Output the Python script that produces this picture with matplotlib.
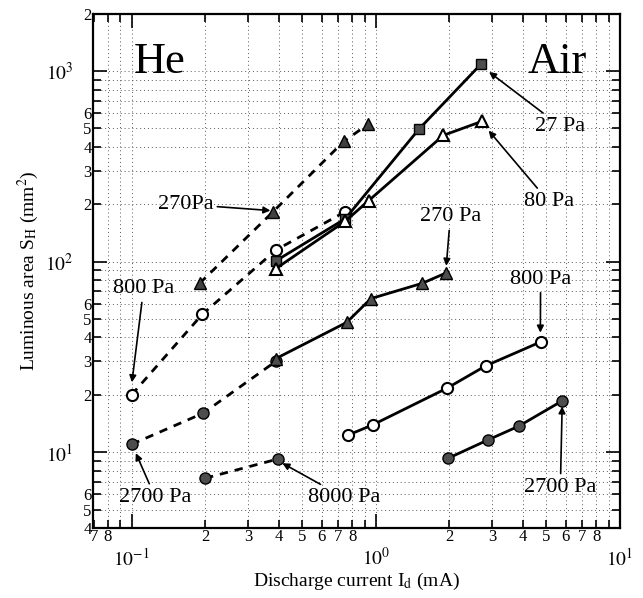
import matplotlib
matplotlib.use("Agg")
from matplotlib import pyplot as plt
from matplotlib.ticker import FixedLocator, FixedFormatter

plt.rcParams['font.family'] = ['Liberation Serif', 'DejaVu Serif']
plt.rcParams['mathtext.fontset'] = 'stix'

# --- data (current in mA, area in mm^2) ---
he_270_x = [0.19, 0.38, 0.74, 0.93]
he_270_y = [77, 183, 428, 526]
he_800_x = [0.1, 0.195, 0.39, 0.75]
he_800_y = [20, 53, 115, 183]
he_2700_x = [0.1, 0.196, 0.39]
he_2700_y = [11.0, 16.0, 30.0]
he_8000_x = [0.2, 0.396]
he_8000_y = [7.3, 9.2]

air_27_x = [0.39, 0.75, 1.5, 2.7]
air_27_y = [101, 168, 495, 1090]
air_80_x = [0.39, 0.75, 0.935, 1.89, 2.72]
air_80_y = [92, 163, 209, 460, 545]
air_270_x = [0.39, 0.76, 0.955, 1.55, 1.93]
air_270_y = [31, 48, 64, 77, 87]
air_800_x = [0.77, 0.97, 1.96, 2.82, 4.73]
air_800_y = [12.3, 13.9, 21.7, 28.4, 37.9]
air_2700_x = [1.98, 2.88, 3.85, 5.8]
air_2700_y = [9.3, 11.6, 13.7, 18.6]

fig = plt.figure(figsize=(6.43, 5.98), dpi=100)
ax = fig.add_axes([0.1446, 0.117, 0.8196, 0.860])
ax.set_xscale('log')
ax.set_yscale('log')
ax.set_xlim(0.0695, 10)
ax.set_ylim(4, 2000)

# grid (dotted, like the scanned paper)
xgrid = [0.08, 0.09, 0.1, 0.2, 0.3, 0.4, 0.5, 0.6, 0.7, 0.8, 0.9, 1, 2, 3, 4, 5, 6, 7, 8, 9]
ygrid = [5, 6, 7, 8, 9, 10, 20, 30, 40, 50, 60, 70, 80, 90, 100, 200, 300, 400, 500, 600, 700, 800, 900, 1000]
for g in xgrid:
    ax.axvline(g, color='0.35', lw=0.7, ls=(0, (1, 3)), zorder=0)
for g in ygrid:
    ax.axhline(g, color='0.35', lw=0.7, ls=(0, (1, 3)), zorder=0)

ms = 8
# He (dashed)
ax.plot(he_270_x, he_270_y, 'k--', lw=2, dashes=(3, 2.5), marker='^', ms=ms, mfc='0.25', mec='k')
ax.plot(he_800_x, he_800_y, 'k--', lw=2, dashes=(3, 2.5), marker='o', ms=ms, mfc='white', mec='k', mew=1.5)
ax.plot(he_2700_x, he_2700_y, 'k--', lw=2, dashes=(3, 2.5), marker='o', ms=ms, mfc='0.3', mec='k')
ax.plot(he_8000_x, he_8000_y, 'k--', lw=2, dashes=(3, 2.5), marker='o', ms=ms, mfc='0.3', mec='k')
# Air (solid)
ax.plot(air_27_x, air_27_y, 'k-', lw=2, marker='s', ms=7, mfc='0.3', mec='k')
ax.plot(air_80_x, air_80_y, 'k-', lw=2, marker='^', ms=ms, mfc='white', mec='k', mew=1.5)
ax.plot(air_270_x, air_270_y, 'k-', lw=2, marker='^', ms=ms, mfc='0.3', mec='k')
ax.plot(air_800_x, air_800_y, 'k-', lw=2, marker='o', ms=ms, mfc='white', mec='k', mew=1.5)
ax.plot(air_2700_x, air_2700_y, 'k-', lw=2, marker='o', ms=ms, mfc='0.3', mec='k')

# ticks
xminor = [0.07, 0.08, 0.09, 0.2, 0.3, 0.4, 0.5, 0.6, 0.7, 0.8, 0.9, 2, 3, 4, 5, 6, 7, 8, 9]
xminor_lab = ['7', '8', '', '2', '3', '4', '5', '6', '7', '8', '', '2', '3', '4', '5', '6', '7', '8', '']
yminor = [4, 5, 6, 7, 8, 9, 20, 30, 40, 50, 60, 70, 80, 90, 200, 300, 400, 500, 600, 700, 800, 900, 2000]
yminor_lab = ['4', '5', '6', '', '', '', '2', '3', '4', '5', '6', '', '', '',
              '2', '3', '4', '5', '6', '', '', '', '2']
ax.xaxis.set_minor_locator(FixedLocator(xminor))
ax.xaxis.set_minor_formatter(FixedFormatter(xminor_lab))
ax.yaxis.set_minor_locator(FixedLocator(yminor))
ax.yaxis.set_minor_formatter(FixedFormatter(yminor_lab))
ax.set_xticks([0.1, 1, 10])
ax.set_xticklabels([r'$10^{-1}$', r'$10^{0}$', r'$10^{1}$'])
ax.set_yticks([10, 100, 1000])
ax.set_yticklabels([r'$10^{1}$', r'$10^{2}$', r'$10^{3}$'])

ax.tick_params(which='both', direction='in', top=True, right=True, width=1.2)
ax.tick_params(which='major', length=10, labelsize=14)
ax.tick_params(which='minor', length=6, labelsize=12, pad=1)
ax.tick_params(axis='x', which='major', pad=14)
ax.tick_params(axis='y', which='major', pad=14)
for s in ax.spines.values():
    s.set_linewidth(1.6)

ax.set_xlabel(r'Discharge current I$_\mathrm{d}$ (mA)', fontsize=14, labelpad=1)
ax.set_ylabel(r'Luminous area S$_\mathrm{H}$ (mm$^2$)', fontsize=14, labelpad=3)

ax.text(0.127, 0.907, 'He', transform=ax.transAxes, fontsize=32, ha='center', va='center')
ax.text(0.882, 0.907, 'Air', transform=ax.transAxes, fontsize=32, ha='center', va='center')

arr = dict(arrowstyle='-|>', color='k', lw=1.2, mutation_scale=10, shrinkA=1, shrinkB=2)
ann = [
    ('270Pa', (0.38, 185), (0.166, 200)),
    ('800 Pa', (0.1, 22.5), (0.112, 72)),
    ('2700 Pa', (0.103, 10.2), (0.125, 5.8)),
    ('8000 Pa', (0.405, 8.9), (0.74, 5.8)),
    ('27 Pa', (2.85, 1010), (5.7, 514)),
    ('80 Pa', (2.85, 500), (5.1, 207)),
    ('270 Pa', (1.94, 92), (2.02, 172)),
    ('800 Pa', (4.72, 41), (4.73, 81)),
    ('2700 Pa', (5.8, 18), (5.7, 6.55)),
]
for txt, xy, xyt in ann:
    ax.annotate(txt, xy=xy, xytext=xyt, fontsize=16, ha='center', va='center',
                arrowprops=arr, zorder=5)

fig.savefig('out.png', dpi=100, facecolor='w')
